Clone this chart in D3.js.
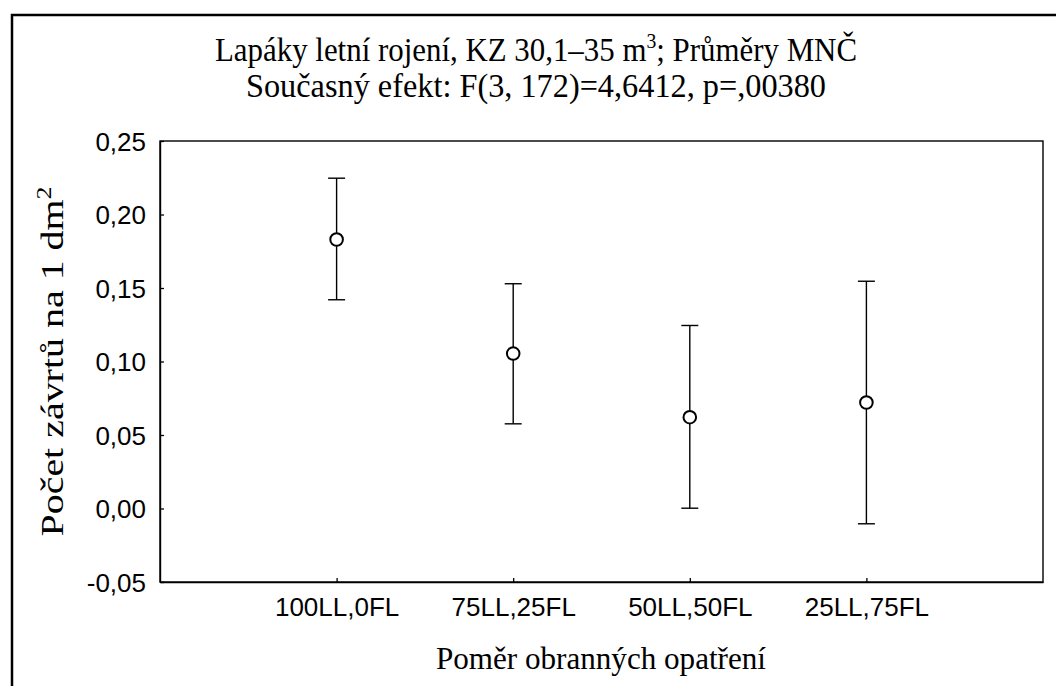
<!DOCTYPE html>
<html>
<head>
<meta charset="utf-8">
<script src="https://cdn.jsdelivr.net/npm/d3@7"></script>
<style>
  html, body { margin: 0; padding: 0; background: #fff; }
  svg { display: block; }
</style>
</head>
<body>
<div id="chart"></div>
<script>
const WIDTH = 1056;
const HEIGHT = 686;

// data
const categories = ["100LL,0FL", "75LL,25FL", "50LL,50FL", "25LL,75FL"];
const means = [0.183, 0.1054, 0.0621, 0.0721];
const upper = [0.2247, 0.1529, 0.1245, 0.1546];
const lower = [0.142, 0.0576, 0.0002, -0.0104];
const yTicks = [-0.05, 0, 0.05, 0.10, 0.15, 0.20, 0.25];

const plot = { left: 160, right: 1043, top: 141, bottom: 582 };

const locale = d3.formatLocale({ decimal: ",", thousands: " ", grouping: [3], currency: ["", ""], minus: "-" });
const fmt = locale.format(".2f");

const svg = d3.select("#chart").append("svg")
  .attr("width", WIDTH)
  .attr("height", HEIGHT);

// outer frame (runs off the right and bottom edges)
svg.append("rect")
  .attr("x", 12).attr("y", 15)
  .attr("width", 1100).attr("height", 720)
  .attr("fill", "none")
  .attr("stroke", "#000")
  .attr("stroke-width", 2.5);

const x = d3.scalePoint()
  .domain(categories)
  .range([plot.left, plot.right])
  .padding(1);

const y = d3.scaleLinear()
  .domain([-0.05, 0.25])
  .range([plot.bottom, plot.top]);

// plot box
svg.append("rect")
  .attr("x", plot.left).attr("y", plot.top)
  .attr("width", plot.right - plot.left)
  .attr("height", plot.bottom - plot.top)
  .attr("fill", "none")
  .attr("stroke", "#000")
  .attr("stroke-width", 1.4);

const yAxis = svg.append("g")
  .attr("transform", `translate(${plot.left},0)`)
  .call(d3.axisLeft(y).tickValues(yTicks).tickFormat(fmt).tickSizeInner(-4).tickSizeOuter(0).tickPadding(14));

const xAxis = svg.append("g")
  .attr("transform", `translate(0,${plot.bottom})`)
  .call(d3.axisBottom(x).tickSizeInner(-4).tickSizeOuter(0).tickPadding(15));

[yAxis, xAxis].forEach(g => {
  g.select(".domain").attr("stroke", "#000").attr("stroke-width", 1.4);
  g.selectAll(".tick line").attr("stroke", "#000").attr("stroke-width", 1.3);
  g.selectAll(".tick text")
    .attr("fill", "#000")
    .style("font-family", "'Liberation Sans', Arial, sans-serif")
    .style("font-size", "26px");
});
yAxis.selectAll(".tick text").attr("dy", "0.36em");
xAxis.selectAll(".tick text").attr("dy", "0.72em");

// error bars
const rows = categories.map((c, i) => ({ c, m: means[i], hi: upper[i], lo: lower[i] }));
const capW = 8.5;
const bars = svg.append("g").attr("stroke", "#000").attr("stroke-width", 1.4);

bars.selectAll("line.whisker")
  .data(rows).join("line")
  .attr("class", "whisker")
  .attr("x1", d => x(d.c)).attr("x2", d => x(d.c))
  .attr("y1", d => y(d.hi)).attr("y2", d => y(d.lo));

bars.selectAll("line.cap-hi")
  .data(rows).join("line")
  .attr("class", "cap-hi")
  .attr("x1", d => x(d.c) - capW).attr("x2", d => x(d.c) + capW)
  .attr("y1", d => y(d.hi)).attr("y2", d => y(d.hi));

bars.selectAll("line.cap-lo")
  .data(rows).join("line")
  .attr("class", "cap-lo")
  .attr("x1", d => x(d.c) - capW).attr("x2", d => x(d.c) + capW)
  .attr("y1", d => y(d.lo)).attr("y2", d => y(d.lo));

svg.append("g").selectAll("circle")
  .data(rows).join("circle")
  .attr("cx", d => x(d.c))
  .attr("cy", d => y(d.m))
  .attr("r", 6.3)
  .attr("fill", "#fff")
  .attr("stroke", "#000")
  .attr("stroke-width", 2);

// titles
const serif = "'Liberation Serif', 'Times New Roman', serif";

const t1 = svg.append("text")
  .attr("x", 536).attr("y", 61)
  .attr("text-anchor", "middle")
  .attr("textLength", 642).attr("lengthAdjust", "spacingAndGlyphs")
  .style("font-family", serif).style("font-size", "33px");
t1.append("tspan").text("Lapáky letní rojení, KZ 30,1–35 m");
t1.append("tspan").attr("dy", -13).style("font-size", "21px").text("3");
t1.append("tspan").attr("dy", 13).text("; Průměry MNČ");

svg.append("text")
  .attr("x", 536).attr("y", 97)
  .attr("text-anchor", "middle")
  .attr("textLength", 580).attr("lengthAdjust", "spacingAndGlyphs")
  .style("font-family", serif).style("font-size", "33px")
  .text("Současný efekt: F(3, 172)=4,6412, p=,00380");

svg.append("text")
  .attr("x", 601).attr("y", 669)
  .attr("text-anchor", "middle")
  .attr("textLength", 330).attr("lengthAdjust", "spacingAndGlyphs")
  .style("font-family", serif).style("font-size", "31px")
  .text("Poměr obranných opatření");

const yt = svg.append("text")
  .attr("transform", `translate(63,${(plot.top + plot.bottom) / 2}) rotate(-90)`)
  .attr("text-anchor", "middle")
  .attr("textLength", 350).attr("lengthAdjust", "spacingAndGlyphs")
  .style("font-family", serif).style("font-size", "31px");
yt.append("tspan").text("Počet závrtů na 1 dm");
yt.append("tspan").attr("dy", -12).style("font-size", "20px").text("2");
</script>
</body>
</html>
